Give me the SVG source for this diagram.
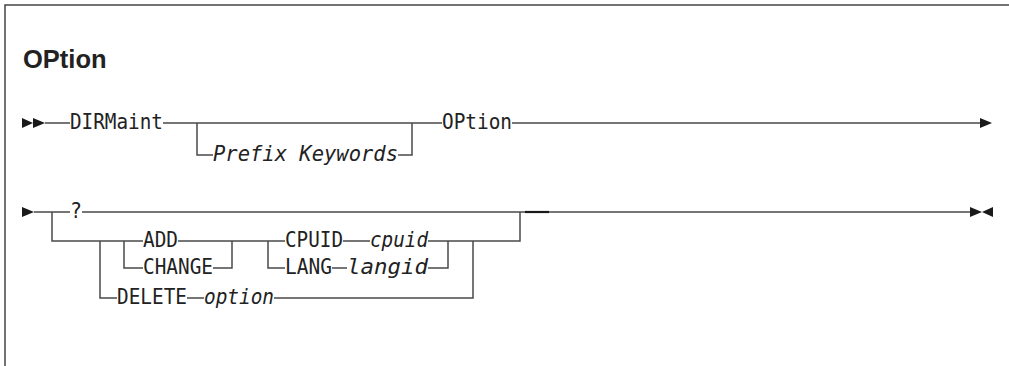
<svg xmlns="http://www.w3.org/2000/svg" width="1009" height="366" viewBox="0 0 1009 366">
<style>
.ln{stroke:#4a4a4a;stroke-width:1.5;fill:none}
.fr{stroke:#444;stroke-width:1.5;fill:none}
.t{font-family:"DejaVu Sans Mono","Liberation Mono",monospace;font-size:20.5px;fill:#222}
.i{font-style:italic}
.h{font-family:"Liberation Sans",Arial,sans-serif;font-weight:bold;font-size:25.5px;fill:#222}
.ar{fill:#1a1a1a}
</style>
<rect width="1009" height="366" fill="#fff"/>
<g id="frame"><path class="fr" d="M5,366 V5 H1009"/></g>
<g id="title"><text class="h" x="23" y="68">OPtion</text></g>
<g id="connectors">
<path class="ln" d="M45,123 H70 M163,123 H442 M512,123 H980"/>
<path class="ln" d="M197,123 V155 H213 M398,155 H412 V123"/>
<path class="ln" d="M34,212 H70 M82,212 H970"/>
<path class="ln" d="M52,212 V241 H143 M178,241 H285 M343,241 H370 M428,241 H520 V212"/>
<path class="ln" d="M124,241 V268 H143 M213,268 H232 V241"/>
<path class="ln" d="M268,241 V268 H285 M332,268 H347 M428,268 H448 V241"/>
<path class="ln" d="M100,241 V298 H117 M187,298 H204 M274,298 H473 V241"/>
<path d="M525,212 H549" stroke="#1a1a1a" stroke-width="2.2"/>
</g>
<g id="start1"><polygon class="ar" points="22,118 33,123 22,128"/><polygon class="ar" points="33,118 45,123 33,128"/></g>
<g id="end1"><polygon class="ar" points="980,118 992,123 980,128"/></g>
<g id="start2"><polygon class="ar" points="22,207 34,212 22,217"/></g>
<g id="end2"><polygon class="ar" points="970,207 982,212 970,217"/><polygon class="ar" points="993,207 982,212 993,217"/></g>
<g id="n-dirmaint"><text class="t" x="70" y="129" textLength="93" lengthAdjust="spacingAndGlyphs">DIRMaint</text></g>
<g id="n-prefix"><text class="t i" x="213" y="161" textLength="185" lengthAdjust="spacingAndGlyphs">Prefix Keywords</text></g>
<g id="n-option"><text class="t" x="442" y="129" textLength="70" lengthAdjust="spacingAndGlyphs">OPtion</text></g>
<g id="n-q"><text class="t" x="70" y="218" textLength="12" lengthAdjust="spacingAndGlyphs">?</text></g>
<g id="n-add"><text class="t" x="143" y="247" textLength="35" lengthAdjust="spacingAndGlyphs">ADD</text></g>
<g id="n-change"><text class="t" x="143" y="274" textLength="70" lengthAdjust="spacingAndGlyphs">CHANGE</text></g>
<g id="n-cpuid"><text class="t" x="285" y="247" textLength="58" lengthAdjust="spacingAndGlyphs">CPUID</text><text class="t i" x="370" y="247" textLength="58" lengthAdjust="spacingAndGlyphs">cpuid</text></g>
<g id="n-lang"><text class="t" x="285" y="274" textLength="47" lengthAdjust="spacingAndGlyphs">LANG</text><text class="t i" x="347" y="274" textLength="81" lengthAdjust="spacingAndGlyphs">langid</text></g>
<g id="n-delete"><text class="t" x="117" y="304" textLength="70" lengthAdjust="spacingAndGlyphs">DELETE</text><text class="t i" x="204" y="304" textLength="70" lengthAdjust="spacingAndGlyphs">option</text></g>
</svg>
